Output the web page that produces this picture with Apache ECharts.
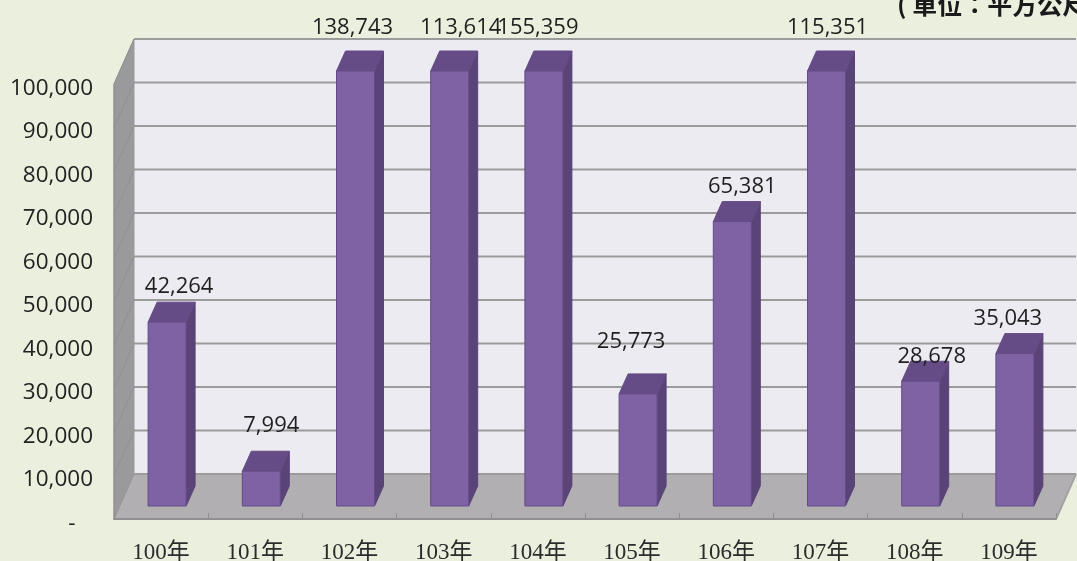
<!DOCTYPE html>
<html><head><meta charset="utf-8">
<style>html,body{margin:0;padding:0;background:#ebefdd}#c{width:1077px;height:561px;overflow:hidden}</style>
<script src="https://cdn.jsdelivr.net/npm/echarts@6/dist/echarts.min.js"></script>
</head><body><div id="c"></div>
<script>
const categories = ['100年','101年','102年','103年','104年','105年','106年','107年','108年','109年'];
const values = [42264,7994,138743,113614,155359,25773,65381,115351,28678,35043];
const axisMax = 100000;
const axisStep = 10000;
const unitText = '( 單位：平方公尺)';
// label nudge from the bar's top-centre, in pixels (the source has hand-placed labels)
const labelDx = [12,10,-3,11,-6,-7,10,1,11,-7];
const labelDy = [-35,-45,-43,-43,-43,-52,-35,-43,-25,-35];

const WALL_DX = 20, WALL_DY = -45;      // depth of the chart box
const BAR_DX = 6, BAR_DY = -13;         // bar offset inside the box
const BAR_W = 38, BAR_DEPTH_X = 9, BAR_DEPTH_Y = -20;
const SANS = '"Open Sans","Noto Sans CJK TC",sans-serif';
const SERIF = '"Liberation Serif","Noto Sans CJK TC",serif';
const fmt = v => v.toString().replace(/\B(?=(\d{3})+$)/g, ',');

const gridTicks = [];
for (let v = 0; v <= axisMax; v += axisStep) gridTicks.push(v);

function poly(points, fill, stroke, lw) {
  return { type: 'polygon', shape: { points }, style: { fill, stroke: stroke || fill, lineWidth: lw == null ? 1 : lw } };
}

function renderWalls(params, api) {
  const cs = params.coordSys;
  const L = cs.x, R = cs.x + cs.width, T = cs.y, B = cs.y + cs.height;
  const children = [
    poly([[L+WALL_DX,T+WALL_DY],[R+WALL_DX,T+WALL_DY],[R+WALL_DX,B+WALL_DY],[L+WALL_DX,B+WALL_DY]], '#ecebf2'),
    poly([[L,T],[L+WALL_DX,T+WALL_DY],[L+WALL_DX,B+WALL_DY],[L,B]], '#9a9a9c'),
    poly([[L,B],[L+WALL_DX,B+WALL_DY],[R+WALL_DX,B+WALL_DY],[R,B]], '#b2afb2')
  ];
  gridTicks.forEach(v => {
    const y = api.coord([0, v])[1];
    children.push({ type: 'line', shape: { x1: L+WALL_DX, y1: y+WALL_DY, x2: R+WALL_DX, y2: y+WALL_DY },
      style: { stroke: '#9b9b9b', lineWidth: 2 } });
    children.push({ type: 'line', shape: { x1: L, y1: y, x2: L+WALL_DX, y2: y+WALL_DY },
      style: { stroke: '#919193', lineWidth: 1 } });
  });
  children.push({ type: 'line', shape: { x1: R, y1: B, x2: R+WALL_DX, y2: B+WALL_DY }, style: { stroke: '#a3a3a3', lineWidth: 2 } });
  children.push({ type: 'line', shape: { x1: L, y1: T, x2: L, y2: B }, style: { stroke: '#8e8e90', lineWidth: 1 } });
  return { type: 'group', children };
}

function renderBar(params, api) {
  const i = api.value(0), v = api.value(1);
  const base = api.coord([i, 0]);
  const top = api.coord([i, Math.min(v, axisMax)]);
  const x0 = base[0] + BAR_DX - BAR_W / 2, x1 = x0 + BAR_W;
  const yb = base[1] + BAR_DY, yt = top[1] + BAR_DY;
  const dx = BAR_DEPTH_X, dy = BAR_DEPTH_Y;
  return { type: 'group', children: [
    poly([[x1,yt],[x1+dx,yt+dy],[x1+dx,yb+dy],[x1,yb]], '#5a4377'),
    poly([[x0,yt],[x0+dx,yt+dy],[x1+dx,yt+dy],[x1,yt]], '#664c86'),
    poly([[x0,yt],[x1,yt],[x1,yb],[x0,yb]], '#7e62a4', '#644c88', 1),
    { type: 'text', z2: 50, style: {
        x: (x0 + x1) / 2 + labelDx[i], y: yt + labelDy[i], text: fmt(v),
        align: 'center', verticalAlign: 'middle', fill: '#1f1f1f', font: '22px ' + SANS } }
  ]};
}

const chart = echarts.init(document.getElementById('c'), null, { renderer: 'canvas' });
chart.setOption({
  animation: false,
  backgroundColor: '#ebefdd',
  grid: { left: 114, right: 21, top: 84, height: 435, show: false, outerBoundsMode: 'none' },
  xAxis: {
    type: 'category', data: categories, z: 5,
    axisLine: { lineStyle: { color: '#8f8f8f', width: 2 } },
    axisTick: { show: true, inside: true, length: 6, alignWithLabel: false, lineStyle: { color: '#8f8f8f', width: 1 } },
    axisLabel: { color: '#2b2b2b', fontFamily: SERIF, fontSize: 23, margin: 22, interval: 0, hideOverlap: false },
    splitLine: { show: false }
  },
  yAxis: {
    type: 'value', min: 0, max: axisMax, interval: axisStep, z: 5,
    axisLine: { show: false },
    axisTick: { show: false },
    splitLine: { show: false },
    axisLabel: { color: '#222', fontFamily: SANS, fontSize: 22.5, margin: 21,
      verticalAlign: 'top', lineHeight: 9,
      formatter: v => v === 0 ? '-   ' : fmt(v) }
  },
  series: [
    { type: 'custom', z: 1, silent: true, renderItem: renderWalls, data: [[0, 0]], clip: false },
    { type: 'custom', z: 2, silent: true, renderItem: renderBar, clip: false,
      data: values.map((v, i) => [i, v]), encode: { x: 0, y: 1 } }
  ],
  graphic: [
    { type: 'text', left: 897, top: -8, z: 20, style: { text: unitText, fill: '#1a1a1a',
      font: 'bold 25px "Noto Sans CJK TC",serif' } }
  ]
});
</script></body></html>
